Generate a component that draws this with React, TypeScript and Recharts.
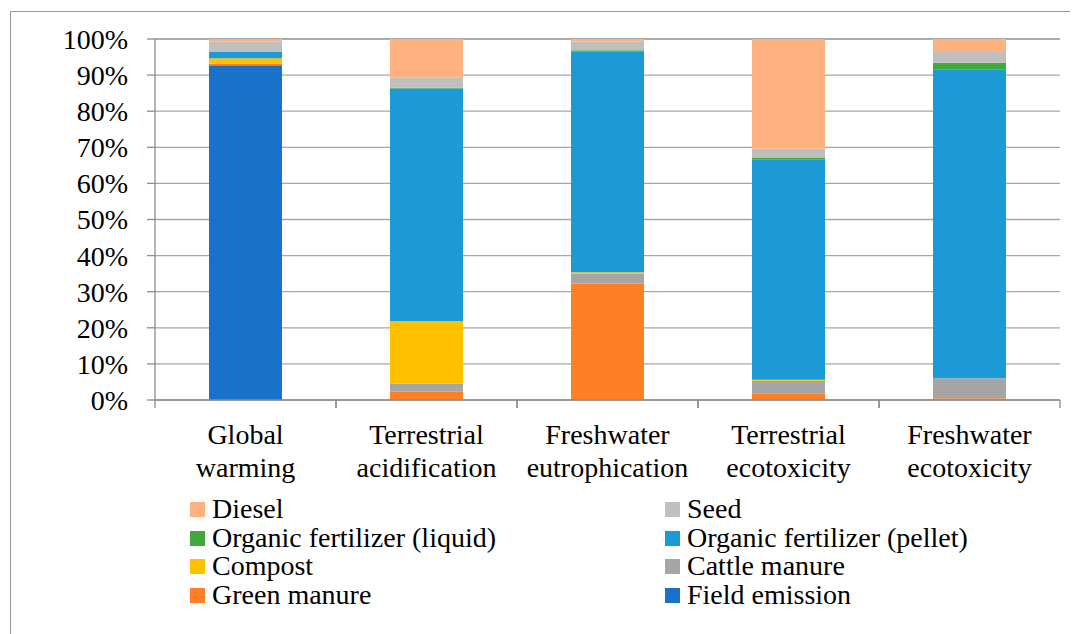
import { BarChart, Bar, XAxis, YAxis, CartesianGrid, Legend } from "recharts";

const CATEGORIES = [
  "Global warming",
  "Terrestrial acidification",
  "Freshwater eutrophication",
  "Terrestrial ecotoxicity",
  "Freshwater ecotoxicity",
];

// stacked bottom-up, values in % per category
const fieldEmission = [92.7, 0, 0, 0, 0];
const greenManure = [0.5, 2.3, 32.3, 1.9, 0.5];
const cattleManure = [0, 2.3, 2.7, 3.4, 5.5];
const compost = [1.5, 17.3, 0.4, 0.3, 0];
const pellet = [1.7, 64.4, 61.1, 61.1, 85.6];
const liquid = [0, 0.2, 0.4, 0.5, 1.8];
const seed = [2.9, 2.9, 2.4, 2.4, 3.0];
const diesel = [0.7, 10.6, 0.7, 30.4, 3.6];

const Y_TICKS = [0, 10, 20, 30, 40, 50, 60, 70, 80, 90, 100];

const SERIES = [
  { key: "Field emission", values: fieldEmission, color: "#1A71C9" },
  { key: "Green manure", values: greenManure, color: "#FF7F27" },
  { key: "Cattle manure", values: cattleManure, color: "#A5A5A5" },
  { key: "Compost", values: compost, color: "#FFC000" },
  { key: "Organic fertilizer (pellet)", values: pellet, color: "#1B9AD6" },
  { key: "Organic fertilizer (liquid)", values: liquid, color: "#3FAA3A" },
  { key: "Seed", values: seed, color: "#BFBFBF" },
  { key: "Diesel", values: diesel, color: "#FFB27F" },
];

const data = CATEGORIES.map((name, i) => {
  const row: Record<string, string | number> = { name };
  SERIES.forEach((s) => (row[s.key] = s.values[i]));
  return row;
});

const FONT = '"Times New Roman", Times, "Liberation Serif", "Nimbus Roman", "Noto Serif", "DejaVu Serif", serif';
const W = 1070;
const H = 626;
const MARGIN = { top: 31, right: 18, left: 0, bottom: 154 };
const Y_AXIS_W = 147;
const BAND = (W - MARGIN.right - Y_AXIS_W) / CATEGORIES.length;

function XTick(props: any) {
  const { x, y, payload } = props;
  const words = String(payload.value).split(" ");
  return (
    <g>
      <line x1={x - BAND / 2} x2={x - BAND / 2} y1={y} y2={y + 8} stroke="#8C8C8C" strokeWidth={1.3} />
      <line x1={x + BAND / 2} x2={x + BAND / 2} y1={y} y2={y + 8} stroke="#8C8C8C" strokeWidth={1.3} />
      <text x={x} y={y + 44} textAnchor="middle" fill="#000" style={{ fontFamily: FONT, fontSize: 28 }}>
        {words.map((w, i) => (
          <tspan key={i} x={x} y={y + 44 + i * 33}>
            {w}
          </tspan>
        ))}
      </text>
    </g>
  );
}

// legend rows read left-to-right: top of the stack first
function LegendContent() {
  const items = [...SERIES].reverse();
  return (
    <div
      style={{
        display: "grid",
        gridTemplateColumns: "475px 400px",
        fontFamily: FONT,
        fontSize: 28,
        lineHeight: "28.7px",
        color: "#000",
      }}
    >
      {items.map((it) => (
        <div key={it.key} style={{ display: "flex", alignItems: "center", whiteSpace: "nowrap" }}>
          <span style={{ width: 15, height: 15, background: it.color, display: "inline-block", marginRight: 7 }} />
          <span>{it.key}</span>
        </div>
      ))}
    </div>
  );
}

export default function App() {
  return (
    <div style={{ position: "relative", width: W, height: H, fontFamily: FONT }}>
      <div
        style={{
          position: "absolute",
          left: 2,
          top: 3,
          width: W,
          height: H,
          borderLeft: "1.3px solid #9A9A9A",
          borderTop: "1.3px solid #9A9A9A",
        }}
      />
      <BarChart width={W} height={H} data={data} margin={MARGIN} barSize={73} style={{ position: "absolute", left: 0, top: 0, fontFamily: FONT }}>
        <CartesianGrid vertical={false} stroke="#A6A6A6" strokeWidth={1.3} />
        <XAxis
          dataKey="name"
          height={80}
          axisLine={{ stroke: "#8C8C8C", strokeWidth: 1.3 }}
          tickLine={false}
          tickSize={0}
          tickMargin={0}
          interval={0}
          tick={<XTick />}
        />
        <YAxis
          width={Y_AXIS_W}
          domain={[0, 100]}
          ticks={Y_TICKS}
          interval={0}
          tickFormatter={(v: number) => `${v}%`}
          axisLine={{ stroke: "#8C8C8C", strokeWidth: 1.3 }}
          tickLine={{ stroke: "#8C8C8C", strokeWidth: 1.3 }}
          tickSize={8}
          tickMargin={19}
          tick={{ fontSize: 28, fill: "#000", style: { fontFamily: FONT } }}
        />
        <Legend
          layout="horizontal"
          verticalAlign="middle"
          align="center"
          wrapperStyle={{ position: "absolute", top: 487, left: 182, width: 880 }}
          content={<LegendContent />}
        />
        {SERIES.map((s) => (
          <Bar key={s.key} dataKey={s.key} stackId="a" fill={s.color} isAnimationActive={false} />
        ))}
      </BarChart>
    </div>
  );
}
